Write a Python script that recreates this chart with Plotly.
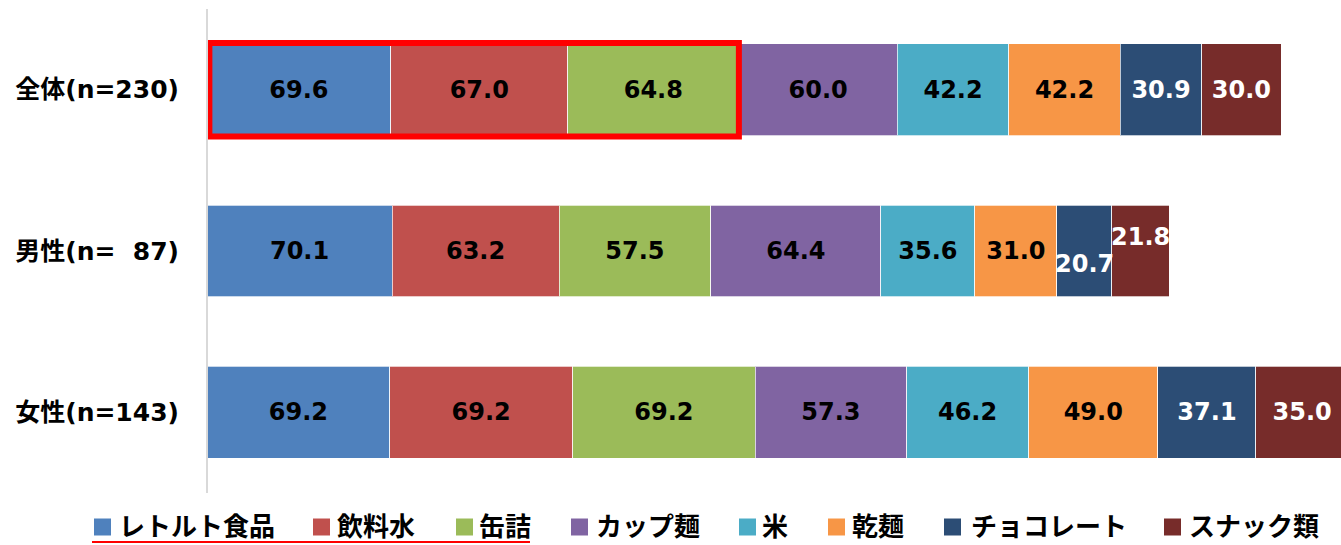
import plotly.graph_objects as go

categories = ["全体(n=230)", "男性(n=\u00a0\u00a087)", "女性(n=143)"]
series_names = ["レトルト食品", "飲料水", "缶詰", "カップ麺", "米", "乾麺", "チョコレート", "スナック類"]
retort = [69.6, 70.1, 69.2]
water = [67.0, 63.2, 69.2]
canned = [64.8, 57.5, 69.2]
cupmen = [60.0, 64.4, 57.3]
rice = [42.2, 35.6, 46.2]
kanmen = [42.2, 31.0, 49.0]
choco = [30.9, 20.7, 37.1]
snack = [30.0, 21.8, 35.0]
values = [retort, water, canned, cupmen, rice, kanmen, choco, snack]
colors = ["#4F81BD", "#C0504D", "#9BBB59", "#8064A2", "#4BACC6", "#F79646", "#2C4D75", "#772C2A"]
text_colors = ["black"] * 6 + ["white"] * 2

FONT = "DejaVu Sans, Noto Sans CJK JP, sans-serif"
JFONT = "Noto Sans CJK JP, DejaVu Sans, sans-serif"

PW, PH = 1341, 545
PLOT_L, PLOT_R, PLOT_T, PLOT_B = 207, 1341, 9, 493


def px_to_paper_x(px):
    return (px - PLOT_L) / (PLOT_R - PLOT_L)


def px_to_paper_y(py):
    return (PLOT_B - py) / (PLOT_B - PLOT_T)


fig = go.Figure()
# labels moved for the narrow male segments
shifted = {(6, 1): 13, (7, 1): -14}
for i, (name, vals) in enumerate(zip(series_names, values)):
    texts = []
    for j, v in enumerate(vals):
        texts.append("" if (i, j) in shifted else f"{v:.1f}")
    fig.add_trace(go.Bar(
        y=categories, x=vals, name=name, orientation="h",
        marker=dict(color=colors[i], line=dict(color="rgba(255,255,255,0.7)", width=1)),
        text=texts, textposition="inside", insidetextanchor="middle",
        constraintext="none",
        textfont=dict(family=FONT, size=24, color=text_colors[i], weight="bold"),
        hoverinfo="skip", showlegend=False, cliponaxis=True,
    ))

annotations = []
for (i, j), dy in shifted.items():
    start = sum(values[k][j] for k in range(i))
    annotations.append(dict(
        x=start + values[i][j] / 2, y=categories[j], xref="x", yref="y",
        text=f"{values[i][j]:.1f}", showarrow=False, yshift=-dy,
        font=dict(family=FONT, size=24, color=text_colors[i], weight="bold"),
    ))

scale_max = 429.4
highlight_end = retort[0] + water[0] + canned[0]
BAR_HALF = 0.285
shapes = [
    dict(type="rect", xref="x", yref="y", x0=0.9, x1=highlight_end,
         y0=-BAR_HALF - 0.005, y1=BAR_HALF + 0.005, line=dict(color="#FF0000", width=6)),
    dict(type="line", xref="paper", yref="paper", x0=0, x1=0, y0=0, y1=1,
         line=dict(color="#D9D9D9", width=2)),
    dict(type="line", xref="paper", yref="paper",
         x0=px_to_paper_x(92), x1=px_to_paper_x(530),
         y0=px_to_paper_y(542), y1=px_to_paper_y(542),
         line=dict(color="#FF0000", width=2)),
]

# custom legend (square + label), positioned like the reference
legend_square_x = [94, 313, 456, 571, 739, 828, 944, 1164]
legend_text_x = [120, 338, 480, 597, 763, 853, 972, 1190]
SQ = 17
LEG_Y = 527
for i, name in enumerate(series_names):
    sx = legend_square_x[i]
    shapes.append(dict(
        type="rect", xref="paper", yref="paper",
        x0=px_to_paper_x(sx), x1=px_to_paper_x(sx + SQ),
        y0=px_to_paper_y(LEG_Y + SQ / 2), y1=px_to_paper_y(LEG_Y - SQ / 2),
        fillcolor=colors[i], line=dict(width=0),
    ))
    annotations.append(dict(
        x=px_to_paper_x(legend_text_x[i] - 3), y=px_to_paper_y(LEG_Y - 3),
        xref="paper", yref="paper", xanchor="left", yanchor="middle",
        text=name, showarrow=False,
        font=dict(family=JFONT, size=26, color="black", weight="bold"),
    ))

fig.update_layout(
    barmode="stack", bargap=1 - 2 * BAR_HALF,
    width=PW, height=PH,
    margin=dict(l=PLOT_L, r=PW - PLOT_R, t=PLOT_T, b=PH - PLOT_B, autoexpand=False),
    paper_bgcolor="white", plot_bgcolor="white",
    xaxis=dict(range=[0, scale_max], showgrid=False, showticklabels=False,
               zeroline=False, showline=False, fixedrange=True),
    yaxis=dict(autorange="reversed", showgrid=False, showline=False,
               ticks="", ticklabelstandoff=27, fixedrange=True,
               tickfont=dict(family=FONT, size=25, color="black", weight="bold")),
    showlegend=False, hovermode=False,
    shapes=shapes, annotations=annotations,
)
fig.write_html(
    "out.html",
    config={"displayModeBar": False, "staticPlot": True},
    post_script="document.body.style.margin='0';document.body.style.overflow='hidden';",
)
